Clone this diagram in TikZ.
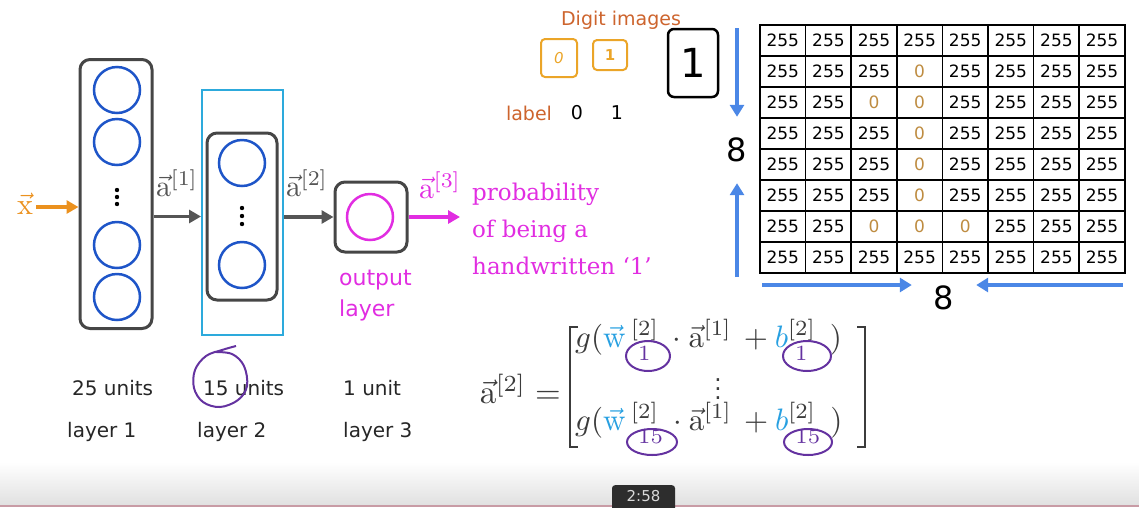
\documentclass[tikz,border=0pt]{standalone}
\usepackage{amsmath}
\usepackage{graphicx}
\usepackage[no-math]{fontspec}
\setmainfont{DejaVu Sans}
\newfontfamily\captionserif{DejaVu Serif}
\usepackage{xcolor}
\usetikzlibrary{arrows.meta, positioning, calc}

\definecolor{layergray}{RGB}{70, 70, 70}
\definecolor{arrowgray}{RGB}{85, 85, 85}
\definecolor{neuronblue}{RGB}{30, 85, 200}
\definecolor{selectcyan}{RGB}{45, 170, 220}
\definecolor{outmagenta}{RGB}{225, 45, 225}
\definecolor{inorange}{RGB}{235, 145, 30}
\definecolor{digitbrown}{RGB}{205, 100, 45}
\definecolor{imgorange}{RGB}{235, 165, 40}
\definecolor{zerobrown}{RGB}{190, 140, 65}
\definecolor{sizeblue}{RGB}{75, 135, 230}
\definecolor{inkpurple}{RGB}{100, 50, 160}
\definecolor{eqgray}{RGB}{60, 60, 60}
\definecolor{eqblue}{RGB}{40, 160, 225}
\definecolor{tipdark}{RGB}{45, 45, 45}
\definecolor{barpink}{RGB}{200, 155, 165}

\newcommand{\veca}{\vec{\mathrm{a}}}
\newcommand{\vecw}{\textcolor{eqblue}{\vec{\mathrm{w}}}}
\newcommand{\circsub}[1]{\lower2pt\hbox{$\scriptstyle\;\textcolor{inkpurple}{#1}$}}
\newcommand{\bigmath}[2]{\scalebox{#1}{$#2$}}

\begin{document}
\begin{tikzpicture}[
    x=1pt, y=-1pt,
    layerbox/.style={draw=layergray, line width=3, rounded corners=10},
    neuron/.style={circle, draw=neuronblue, line width=2.5, minimum size=46},
    flow/.style={-{Triangle[length=12pt, width=13pt]}, line width=3.5, arrowgray},
    inflow/.style={flow, inorange},
    outflow/.style={flow, outmagenta},
    alabel/.style={text=arrowgray, font=\fontsize{10}{10}\selectfont},
    unitlbl/.style={anchor=west, inner sep=0, text=black!85, font=\fontsize{20}{20}\selectfont},
    ink/.style={inkpurple, line width=2},
    eqrow/.style={anchor=base west, inner sep=0, text=eqgray, font=\fontsize{10}{10}\selectfont},
    bracket/.style={eqgray, line width=2.5},
    pixel/.style={draw=black, line width=1.5, minimum width=45.6, minimum height=31,
                  inner sep=0, font=\fontsize{17}{17}\selectfont},
    sizearrow/.style={-{Triangle[length=12pt, width=14pt]}, line width=4, sizeblue},
    sizelbl/.style={font=\fontsize{32}{32}\selectfont}
]
    \useasboundingbox (0,0) rectangle (1139,507);

    % network
    \node[layerbox, minimum width=72, minimum height=269] (l1) at (116,194) {};
    \foreach \y [count=\i] in {90,142,245,297}
        \node[neuron] (n1\i) at (117,\y) {};
    \foreach \y in {190,197,204}
        \fill[black] (117,\y) circle[radius=2.2];

    \node[draw=selectcyan, line width=2, minimum width=81, minimum height=245] (l2sel) at (242.5,212.5) {};
    \node[layerbox, minimum width=70, minimum height=167] (l2in) at (242,216.5) {};
    \node[neuron] (n21) at (242,163) {};
    \node[neuron] (n22) at (242,265) {};
    \foreach \y in {208,216,224}
        \fill[black] (242,\y) circle[radius=2.2];

    \node[layerbox, minimum width=72, minimum height=70] (outbox) at (371,217) {};
    \node[neuron, draw=outmagenta] (n31) at (370,217) {};

    \node[text=inorange, font=\fontsize{10}{10}\selectfont] (xin) at (25,204) {\bigmath{3}{\vec{\mathrm{x}}}};
    \draw[inflow] (xin.east |- 0,207) -- (l1.west |- 0,207);

    \node[alabel] (a1lbl) at (177,183) {\bigmath{3}{\veca^{[1]}}};
    \draw[flow] (l1.east |- l2in) -- (l2sel.west |- l2in);
    \node[alabel] (a2lbl) at (307,183) {\bigmath{3}{\veca^{[2]}}};
    \draw[flow] (l2sel.east |- outbox) -- (outbox.west);
    \coordinate (a3end) at (460,217);
    \node[alabel, text=outmagenta] (a3lbl) at (440,185) {\bigmath{3}{\veca^{[3]}}};
    \draw[outflow] (outbox.east) -- (a3end);

    \node[anchor=north west, align=left, inner sep=0, text=outmagenta,
          font=\fontsize{22}{31}\selectfont] (outlbl) at (339,270) {output\\layer};
    \node[anchor=west, align=left, inner sep=0, text=outmagenta,
          font=\captionserif\fontsize{23}{37}\selectfont] (prob) at (472,229)
          {probability\\of being a\\handwritten ‘1’};

    % units and layers
    \node[unitlbl] (u25) at (72,388) {25 units};
    \node[unitlbl] (u15) at (203,388) {15 units};
    \node[unitlbl] (u1) at (343,388) {1 unit};
    \node[unitlbl, below=44pt of u25.west, anchor=west, xshift=-5pt] (lay1) {layer 1};
    \node[unitlbl, below=44pt of u15.west, anchor=west, xshift=-6pt] (lay2) {layer 2};
    \node[unitlbl, below=44pt of u1.west, anchor=west] (lay3) {layer 3};
    \draw[ink] plot[smooth, tension=0.6] coordinates {(236,346) (222,350) (206,356) (195,370)
        (194,388) (203,402) (220,407) (238,400) (247,386) (244,366) (232,354) (214,352)};

    % equation
    \node[eqrow, anchor=base east] (eqlhs) at (561,403) {\bigmath{3.3}{\veca^{[2]}=}};
    \draw[bracket] (578,327) -| (570,447) -- (578,447);
    \draw[bracket] (857,327) -| (865,447) -- (857,447);
    \node[eqrow] (row1) at (575,347)
        {\bigmath{3.1}{g(\vecw\,{}^{[2]}_{\circsub{1}}\mkern4mu\cdot\veca^{[1]}\mkern3mu
         +\textcolor{eqblue}{b}^{[2]}_{\circsub{1}}\mkern8mu)}};
    \node[eqrow, anchor=center] (eqdots) at (718,382) {\bigmath{2.3}{\vdots}};
    \node[eqrow] (row2) at (575,430)
        {\bigmath{3.1}{g(\vecw\,{}^{[2]}_{\circsub{15}}\mkern1mu\cdot\veca^{[1]}\mkern3mu
         +\textcolor{eqblue}{b}^{[2]}_{\circsub{15}}\mkern5mu)}};
    \draw[ink] (648,356) ellipse[x radius=22, y radius=15];
    \draw[ink] (807,356) ellipse[x radius=24, y radius=15];
    \draw[ink] (652,442) ellipse[x radius=25, y radius=13];
    \draw[ink] (808,442) ellipse[x radius=24, y radius=13];

    % digit images
    \node[text=digitbrown, font=\fontsize{19}{19}\selectfont] (digits) at (621,20) {Digit images};
    \node[draw=imgorange, line width=2, rounded corners=4, minimum width=36, minimum height=38,
          text=imgorange, font=\fontsize{15}{15}\selectfont\itshape] (img0) at (559,58) {0};
    \node[draw=imgorange, line width=2, rounded corners=4, minimum width=34, minimum height=30,
          text=imgorange, font=\fontsize{15}{15}\selectfont\bfseries] (img1) at (610,55) {1};
    \node[draw=black, line width=2.5, rounded corners=6, minimum width=50, minimum height=68,
          font=\fontsize{40}{40}\selectfont] (bigone) at (693,63) {1};
    \node[text=digitbrown, font=\fontsize{19}{19}\selectfont] (lbl) at (529,113) {label};
    \node[font=\fontsize{19}{19}\selectfont] (lbl0) at (577,113) {0};
    \node[font=\fontsize{19}{19}\selectfont] (lbl1) at (617,113) {1};

    % 8 x 8 pixel grid
    \foreach \rowvals [count=\r] in {
        {1,1,1,1,1,1,1,1},
        {1,1,1,0,1,1,1,1},
        {1,1,0,0,1,1,1,1},
        {1,1,1,0,1,1,1,1},
        {1,1,1,0,1,1,1,1},
        {1,1,1,0,1,1,1,1},
        {1,1,0,0,0,1,1,1},
        {1,1,1,1,1,1,1,1}}
        \foreach \v [count=\c] in \rowvals
            \node[pixel] (px\r\c) at ({760+45.6*(\c-0.5)},{25+31*(\r-0.5)})
                {\ifnum\v=1 255\else\textcolor{zerobrown}{0}\fi};

    \node[sizelbl, minimum height=66] (ylen) at (737,150) {8};
    \coordinate (vtop) at (737,28);
    \coordinate (vbot) at (737,277);
    \draw[sizearrow] (vtop) -- (vtop |- ylen.north);
    \draw[sizearrow] (vbot) -- (vbot |- ylen.south);

    \node[sizelbl, minimum width=64] (xlen) at (944,298) {8};
    \coordinate (hleft) at (762,285);
    \coordinate (hright) at (1123,285);
    \draw[sizearrow] (hleft) -- (hleft -| xlen.west);
    \draw[sizearrow] (hright) -- (hright -| xlen.east);

    % player bar
    \shade[top color=white, bottom color=black!12] (0,462) rectangle (1139,505);
    \fill[barpink] (0,504.5) rectangle (1139,507);
    \node[fill=tipdark, rounded corners=3, minimum width=63, minimum height=32, anchor=north,
          text=black!15, font=\fontsize{16}{16}\selectfont] (tip) at (643.5,485) {};
    \node[text=black!15, font=\fontsize{15}{15}\selectfont, inner sep=0] (tiptime) at (643.5,496) {2:58};
\end{tikzpicture}
\end{document}
